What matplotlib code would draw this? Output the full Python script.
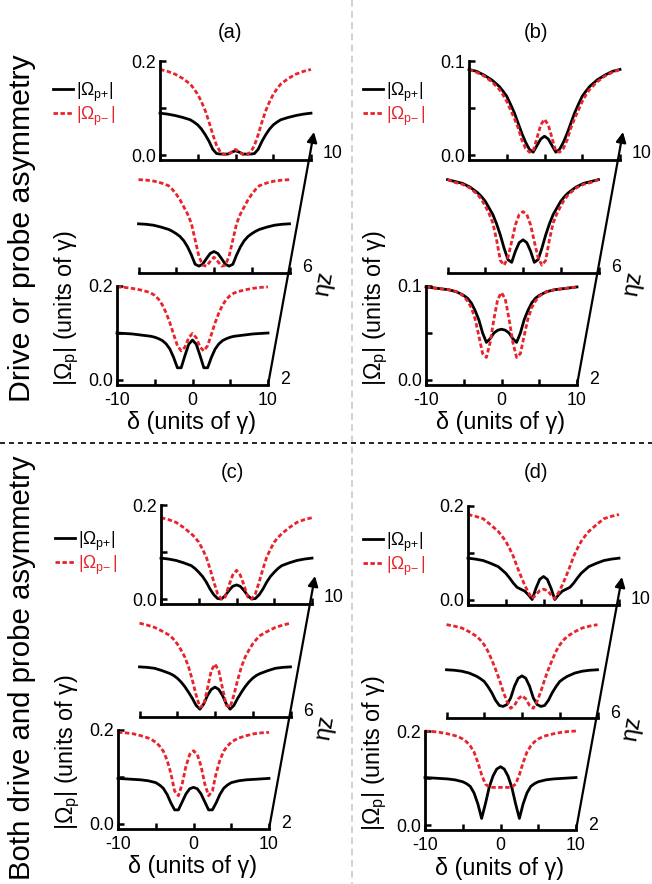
import matplotlib
matplotlib.use('Agg')
import matplotlib.pyplot as plt

plt.rcParams['font.family'] = ['Liberation Sans', 'DejaVu Sans']
plt.rcParams['mathtext.fontset'] = 'custom'
plt.rcParams['mathtext.rm'] = 'Liberation Sans'
plt.rcParams['mathtext.it'] = 'Liberation Sans:italic'
plt.rcParams['mathtext.bf'] = 'Liberation Sans:bold'

# ---------------- data ----------------
delta = [-10, -9, -8, -7, -6, -5.5, -5, -4.5, -4, -3.5, -3, -2.5, -2, -1.5, -1, -0.5, 0,
         0.5, 1, 1.5, 2, 2.5, 3, 3.5, 4, 4.5, 5, 5.5, 6, 7, 8, 9, 10]
eta_z = ['2', '6', '10']
x_ticks = [-10, -5, 0, 5, 10]
x_tick_labels = ['-10', '', '0', '', '10']
panel_letters = ['(a)', '(b)', '(c)', '(d)']
row_labels = ['Drive or probe asymmetry', 'Both drive and probe asymmetry']
legend_labels = [r'$|\Omega_{\mathrm{p{+}}}|$', r'$|\Omega_{\mathrm{p{-}}}\,|$']
y_max = [0.2, 0.1, 0.2, 0.2]
y_tick_labels = [['0.0', '', '0.2'], ['0.0', '', '0.1'], ['0.0', '', '0.2'], ['0.0', '', '0.2']]

# panel (a)
a2_plus = [.100, .099, .098, .096, .094, .093, .091, .088, .084, .077, .066, .048, .026, .026, .052, .076, .085,
           .076, .052, .026, .026, .048, .066, .077, .084, .088, .091, .093, .094, .096, .098, .099, .100]
a2_minus = [.198, .197, .195, .192, .188, .185, .180, .172, .160, .143, .122, .097, .073, .062, .070, .090, .099,
            .090, .070, .062, .073, .097, .122, .143, .160, .172, .180, .185, .188, .192, .195, .197, .198]
a6_plus = [.094, .093, .091, .087, .082, .078, .073, .067, .058, .045, .028, .008, .004, .008, .020, .031, .035,
           .031, .020, .008, .004, .008, .028, .045, .058, .067, .073, .078, .082, .087, .091, .093, .094]
a6_minus = [.188, .187, .185, .181, .175, .167, .157, .145, .130, .115, .095, .060, .025, .006, .004, .014, .023,
            .014, .004, .006, .025, .060, .095, .115, .130, .145, .157, .167, .175, .181, .185, .187, .188]
a10_plus = [.089, .087, .084, .080, .075, .070, .064, .055, .043, .029, .012, .003, .002, .002, .002, .006, .009,
            .006, .002, .002, .002, .003, .012, .029, .043, .055, .064, .070, .075, .080, .084, .087, .089]
a10_minus = [.182, .178, .172, .163, .151, .141, .129, .113, .094, .070, .043, .020, .006, .001, .001, .006, .012,
             .006, .001, .001, .006, .020, .043, .070, .094, .113, .129, .141, .151, .163, .172, .178, .182]

# panel (b)
b2_plus = [.099, .098, .097, .096, .094, .092, .090, .087, .082, .074, .064, .050, .040, .044, .050, .053, .054,
           .053, .050, .044, .040, .050, .064, .074, .082, .087, .090, .092, .094, .096, .097, .098, .099]
b2_minus = [.099, .098, .097, .096, .094, .092, .089, .084, .077, .065, .047, .028, .024, .040, .065, .086, .093,
            .086, .065, .040, .024, .028, .047, .065, .077, .084, .089, .092, .094, .096, .097, .098, .099]
b6_plus = [.094, .092, .090, .086, .080, .076, .071, .064, .057, .047, .035, .021, .009, .006, .018, .027, .030,
           .027, .018, .006, .009, .021, .035, .047, .057, .064, .071, .076, .080, .086, .090, .092, .094]
b6_minus = [.094, .091, .089, .085, .078, .073, .066, .058, .048, .030, .008, .003, .011, .028, .046, .057, .060,
            .057, .046, .028, .011, .003, .008, .030, .048, .058, .066, .073, .078, .085, .089, .091, .094]
b10_plus = [.091, .089, .085, .080, .073, .068, .0625, .054, .045, .034, .023, .0135, .006, .003, .010, .017, .020,
            .017, .010, .003, .006, .0135, .023, .034, .045, .054, .0625, .068, .073, .080, .085, .089, .091]
b10_minus = [.091, .088, .084, .078, .070, .064, .057, .048, .039, .029, .016, .007, .003, .004, .018, .032, .038,
             .032, .018, .004, .003, .007, .016, .029, .039, .048, .057, .064, .070, .078, .084, .088, .091]

# panel (c)
c2_plus = [.097, .096, .095, .094, .092, .090, .088, .083, .076, .063, .045, .030, .030, .047, .064, .075, .078,
           .075, .064, .047, .030, .030, .045, .063, .076, .083, .088, .090, .092, .094, .095, .096, .097]
c2_minus = [.195, .194, .192, .188, .183, .179, .174, .166, .155, .136, .108, .070, .060, .085, .123, .148, .156,
            .148, .123, .085, .060, .070, .108, .136, .155, .166, .174, .179, .183, .188, .192, .194, .195]
c6_plus = [.096, .095, .093, .088, .082, .078, .072, .064, .054, .042, .029, .014, .006, .017, .035, .048, .053,
           .048, .035, .017, .006, .014, .029, .042, .054, .064, .072, .078, .082, .088, .093, .095, .096]
c6_minus = [.189, .185, .180, .172, .163, .155, .145, .132, .117, .096, .068, .036, .010, .014, .050, .088, .102,
            .088, .050, .014, .010, .036, .068, .096, .117, .132, .145, .155, .163, .172, .180, .185, .189]
c10_plus = [.087, .085, .082, .077, .071, .065, .057, .048, .036, .021, .009, .001, .000, .007, .018, .027, .030,
            .027, .018, .007, .000, .001, .009, .021, .036, .048, .057, .065, .071, .077, .082, .085, .087]
c10_minus = [.173, .169, .163, .152, .139, .131, .121, .106, .089, .064, .036, .011, .000, .004, .029, .051, .061,
             .051, .029, .004, .000, .011, .036, .064, .089, .106, .121, .131, .139, .152, .163, .169, .173]

# panel (d)
d2_plus = [.101, .100, .099, .098, .096, .094, .092, .088, .082, .068, .045, .014, .045, .080, .104, .119, .124,
           .119, .104, .080, .045, .014, .045, .068, .082, .088, .092, .094, .096, .098, .099, .100, .101]
d2_minus = [.200, .199, .197, .194, .190, .187, .183, .177, .168, .155, .133, .107, .087, .081, .080, .080, .080,
            .080, .080, .081, .087, .107, .133, .155, .168, .177, .183, .187, .190, .194, .197, .199, .200]
d6_plus = [.092, .091, .089, .085, .078, .073, .067, .056, .043, .027, .016, .014, .018, .032, .057, .074, .079,
           .074, .057, .032, .018, .014, .016, .027, .043, .056, .067, .073, .078, .085, .089, .091, .092]
d6_minus = [.188, .185, .181, .173, .163, .155, .145, .131, .113, .093, .071, .046, .025, .010, .016, .030, .037,
            .030, .016, .010, .025, .046, .071, .093, .113, .131, .145, .155, .163, .173, .181, .185, .188]
d10_plus = [.089, .087, .084, .078, .071, .064, .057, .047, .036, .027, .023, .019, .011, .001, .025, .044, .050,
            .044, .025, .001, .011, .019, .023, .027, .036, .047, .057, .064, .071, .078, .084, .087, .089]
d10_minus = [.182, .178, .173, .160, .146, .136, .125, .110, .093, .071, .051, .032, .016, .003, .011, .020, .023,
             .020, .011, .003, .016, .032, .051, .071, .093, .110, .125, .136, .146, .160, .173, .178, .182]

panels_plus = [[a2_plus, a6_plus, a10_plus], [b2_plus, b6_plus, b10_plus],
               [c2_plus, c6_plus, c10_plus], [d2_plus, d6_plus, d10_plus]]
panels_minus = [[a2_minus, a6_minus, a10_minus], [b2_minus, b6_minus, b10_minus],
                [c2_minus, c6_minus, c10_minus], [d2_minus, d6_minus, d10_minus]]

# ---------------- layout (pixels) ----------------
W, H = 652, 884
RED = '#e8232b'
fig = plt.figure(figsize=(W / 100, H / 100), dpi=100)

overlay = fig.add_axes([0, 0, 1, 1], zorder=0)
overlay.set_xlim(0, W)
overlay.set_ylim(H, 0)
overlay.axis('off')


def px_rect(left, bottom, width, height):
    return [left / W, 1 - bottom / H, width / W, height / H]


origins = [(117, 385), (426, 385), (118, 829), (425, 830)]
slice_offsets = [(0, 0), (21.5, -112), (43, -225)]
SW, SH = 151, 99
letter_pos = [(230, 32), (536, 32), (232, 472), (536, 472)]
legend_pos = [(53, 104), (363, 104), (55, 553), (363, 554)]

for p in range(4):
    ox, oy = origins[p]
    ymax = y_max[p]
    ybot = -ymax * 5 / 94
    front_lines = None
    for s in range(3):
        dx, dy = slice_offsets[s]
        ax = fig.add_axes(px_rect(ox + dx, oy + dy, SW, SH), zorder=2)
        ax.set_facecolor('none')
        ax.set_xlim(-10, 10)
        ax.set_ylim(ybot, ymax)
        lp, = ax.plot(delta, panels_plus[p][s], color='black', lw=2.0, clip_on=False)
        lm, = ax.plot(delta, panels_minus[p][s], color=RED, lw=2.0,
                      ls=(0, (1.6, 0.9)), clip_on=False)
        if s == 0:
            front_lines = (lp, lm)
        for side in ('top', 'right'):
            ax.spines[side].set_visible(False)
        for side in ('left', 'bottom'):
            ax.spines[side].set_linewidth(2.0)
        ax.set_xticks(x_ticks)
        ax.tick_params(direction='in', length=4, width=1.8, labelsize=12.8)
        ax.tick_params(axis='x', pad=5)
        ax.tick_params(axis='y', pad=3)
        if s == 0:
            ax.set_xticklabels(x_tick_labels)
        else:
            ax.set_xticklabels([])
        if s == 1:
            ax.spines['left'].set_visible(False)
            ax.set_yticks([])
        else:
            ax.set_yticks([0, ymax / 2, ymax])
            ax.set_yticklabels(y_tick_labels[p])

    # eta z arrow and labels
    overlay.annotate('', xy=(ox + 197, oy - 253), xytext=(ox + 151, oy),
                     arrowprops=dict(arrowstyle='-|>', lw=1.6, color='black',
                                     mutation_scale=15, shrinkA=0, shrinkB=0))
    overlay.text(ox + 168, oy - 5, eta_z[0], fontsize=12.8, ha='center', va='center')
    overlay.text(ox + 190, oy - 117, eta_z[1], fontsize=12.8, ha='center', va='center')
    overlay.text(ox + 206, oy - 231, eta_z[2], fontsize=12.8, ha='left', va='center')
    overlay.text(ox + 207, oy - 102, 'ηz', fontsize=17, ha='center', va='center', rotation=80)

    # axis labels
    overlay.text(ox + 75, oy + 38, 'δ (units of γ)', fontsize=16.8, ha='center', va='center')
    overlay.text(ox - 50, oy - 77, r'$|\Omega_{\mathrm{p}}|$ (units of γ)', fontsize=16.8,
                 ha='center', va='center', rotation=90)

    overlay.text(letter_pos[p][0], letter_pos[p][1], panel_letters[p], fontsize=14.5,
                 ha='center', va='center')

    lx, ly = legend_pos[p]
    fig.legend(front_lines, legend_labels,
               loc='center left', bbox_to_anchor=(lx / W, 1 - ly / H),
               bbox_transform=fig.transFigure, frameon=False, fontsize=12.7,
               handlelength=1.15, handletextpad=0.15, labelspacing=0.05,
               borderpad=0, borderaxespad=0, labelcolor='linecolor')

# row labels
overlay.text(22, 228, row_labels[0], fontsize=21.8, ha='center', va='center', rotation=90)
overlay.text(22, 668, row_labels[1], fontsize=21.2, ha='center', va='center', rotation=90)

# separators
overlay.plot([352, 352], [0, H], color='#c8c8c8', lw=1.2, ls=(0, (4, 2.7)))
overlay.plot([0, W], [443, 443], color='black', lw=1.2, ls=(0, (3, 2.4)))

fig.savefig('out.png', dpi=100)
